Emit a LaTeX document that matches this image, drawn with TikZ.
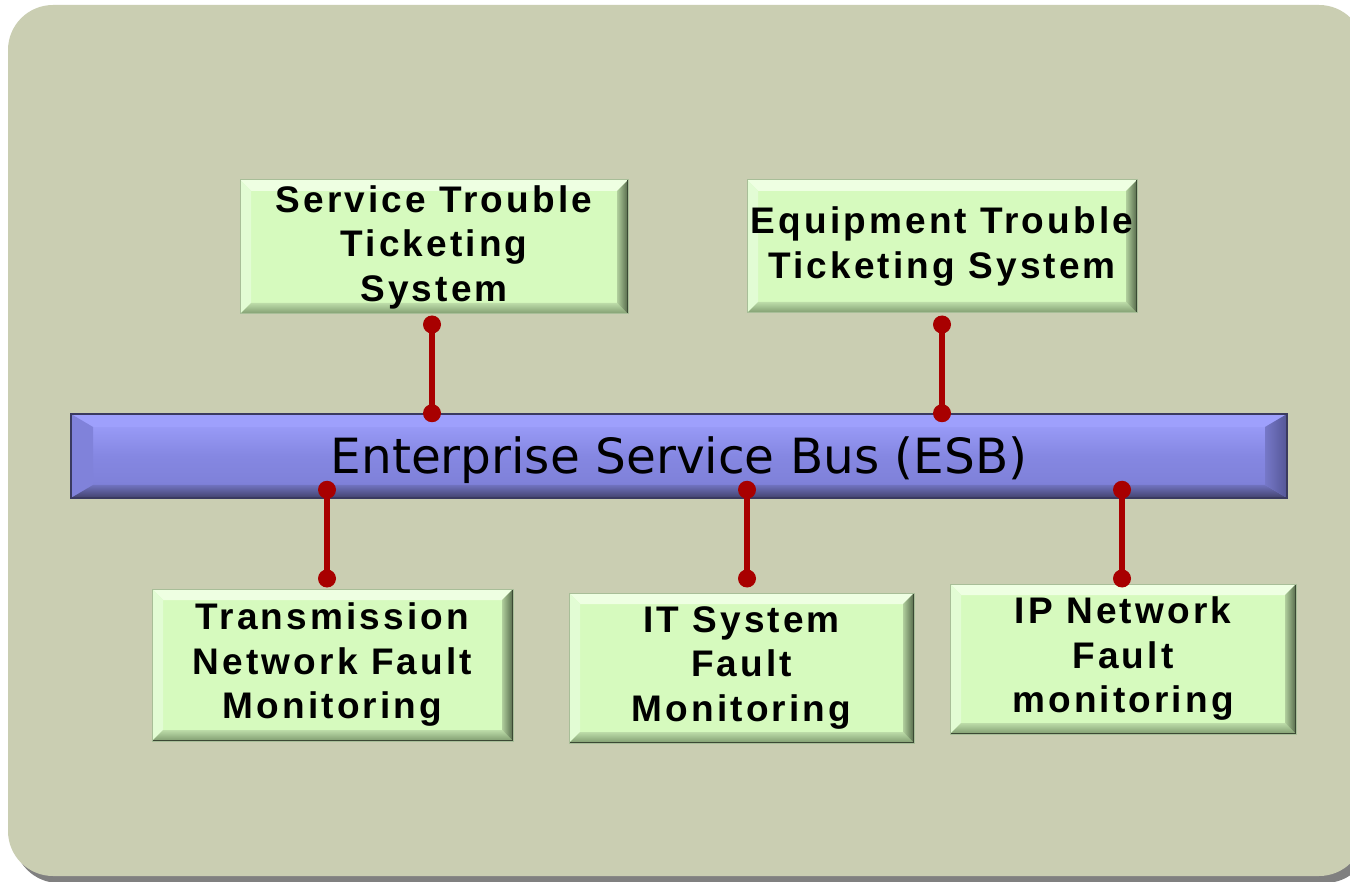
\documentclass[tikz,border=0pt]{standalone}
\usepackage{fontspec}
\setmainfont{Liberation Sans}
\newfontfamily\boxfont[LetterSpace=8.5]{Liberation Sans Bold}
\newfontfamily\busfont{DejaVu Sans}

\definecolor{panel}{RGB}{202,206,178}
\definecolor{panelshadow}{RGB}{128,128,128}
\definecolor{boxgreen}{RGB}{214,250,190}
\definecolor{gtop}{RGB}{238,255,226}
\definecolor{gleft}{RGB}{226,252,212}
\definecolor{gbotA}{RGB}{188,220,168}
\definecolor{gbotB}{RGB}{128,156,112}
\definecolor{grightA}{RGB}{176,206,156}
\definecolor{grightB}{RGB}{84,104,74}
\definecolor{gedge}{RGB}{168,190,152}
\definecolor{busA}{RGB}{160,162,255}
\definecolor{busB}{RGB}{133,135,226}
\definecolor{busC}{RGB}{124,126,212}
\definecolor{btop}{RGB}{158,160,252}
\definecolor{bleft}{RGB}{128,130,218}
\definecolor{brightA}{RGB}{118,120,200}
\definecolor{brightB}{RGB}{84,86,150}
\definecolor{bbotA}{RGB}{112,114,190}
\definecolor{bbotB}{RGB}{66,66,108}
\definecolor{bedge}{RGB}{58,58,96}
\definecolor{linkred}{RGB}{168,0,0}

% bevel drawn inside a node: #1/#2 bevel depth (x/y), then top, left colours,
% bottom shading (from, to), right shading (from, to)
\newcommand\bevels[8]{%
  \coordinate (bvNW) at (path picture bounding box.north west);
  \coordinate (bvNE) at (path picture bounding box.north east);
  \coordinate (bvSW) at (path picture bounding box.south west);
  \coordinate (bvSE) at (path picture bounding box.south east);
  \coordinate (bvnw) at ([xshift=#1,yshift=-#2]bvNW);
  \coordinate (bvne) at ([xshift=-#1,yshift=-#2]bvNE);
  \coordinate (bvsw) at ([xshift=#1,yshift=#2]bvSW);
  \coordinate (bvse) at ([xshift=-#1,yshift=#2]bvSE);
  \fill[#3] (bvNW) -- (bvNE) -- (bvne) -- (bvnw) -- cycle;
  \fill[#4] (bvNW) -- (bvnw) -- (bvsw) -- (bvSW) -- cycle;
  \shade[top color=#5, bottom color=#6] (bvSW) -- (bvsw) -- (bvse) -- (bvSE) -- cycle;
  \shade[left color=#7, right color=#8] (bvNE) -- (bvne) -- (bvse) -- (bvSE) -- cycle;
}

\tikzset{
  greenbox/.style={rectangle, inner sep=0pt, align=center,
    fill=boxgreen, draw=gedge, line width=1pt,
    font=\boxfont\fontsize{37}{44.5}\selectfont,
    path picture={\bevels{11pt}{11pt}{gtop}{gleft}{gbotA}{gbotB}{grightA}{grightB}
      \draw[grightB!70!black, line width=2pt] (bvNE) -- (bvSE) -- (bvSW);}},
  busbar/.style={rectangle, inner sep=0pt, draw=bedge, line width=1.5pt,
    top color=busA, bottom color=busC, middle color=busB,
    font=\busfont\fontsize{48.5}{56}\selectfont,
    path picture={\bevels{22pt}{13pt}{btop}{bleft}{bbotA}{bbotB}{brightA}{brightB}}},
  link/.style={draw=linkred, line width=6pt},
  pin/.style={fill=linkred}
}

\begin{document}
\begin{tikzpicture}[x=1pt, y=-1pt]
\useasboundingbox (0,0) rectangle (1350,882);
\fill[white] (0,0) rectangle (1350,882);

% backdrop panel with its shadow
\fill[panelshadow, rounded corners=45pt] (14,12) rectangle (1370,883);
\fill[panel, rounded corners=45pt] (8,5) rectangle (1364,876);

% systems above the bus
\node[greenbox, minimum width=388pt, minimum height=134pt] (sts) at (434,247)
  {Service Trouble\\Ticketing\\System};
\node[greenbox, minimum width=390pt, minimum height=133pt] (ets) at (942,246.5)
  {Equipment Trouble\\Ticketing System};

% the bus
\node[busbar, minimum width=1216pt, minimum height=84pt] (esb) at (679,456)
  {\raisebox{-4pt}[\height][\depth]{Enterprise Service Bus (ESB)}};

% monitoring systems below the bus
\node[greenbox, minimum width=361pt, minimum height=152pt] (tnfm) at (332.5,665)
  {Transmission\\Network Fault\\Monitoring};
\node[greenbox, minimum width=345pt, minimum height=150pt] (itsfm) at (741.5,668)
  {IT System\\Fault\\Monitoring};
\node[greenbox, minimum width=346pt, minimum height=150pt] (ipnfm) at (1123,659)
  {IP Network\\Fault\\monitoring};

% connection points
\coordinate (t1) at ([xshift=-2pt,yshift=-10pt]sts.south);
\coordinate (u1) at (t1 |- esb.north);
\coordinate (t2) at ([yshift=-11pt]ets.south);
\coordinate (u2) at (t2 |- esb.north);
\coordinate (m1) at ([xshift=-5.5pt,yshift=10pt]tnfm.north);
\coordinate (n1) at (m1 |- esb.south);
\coordinate (m2) at ([xshift=5.5pt,yshift=14pt]itsfm.north);
\coordinate (n2) at (m2 |- esb.south);
\coordinate (m3) at ([xshift=-1pt,yshift=5pt]ipnfm.north);
\coordinate (n3) at (m3 |- esb.south);

\draw[link] (t1) -- (u1);
\draw[link] (t2) -- (u2);
\draw[link] ([yshift=9pt]n1) -- (m1);
\draw[link] ([yshift=9pt]n2) -- (m2);
\draw[link] ([yshift=9pt]n3) -- (m3);

\foreach \p in {t1,u1,t2,u2,m1,m2,m3}
  \fill[pin] (\p) circle (9pt);
\foreach \p in {n1,n2,n3}
  \fill[pin] ([yshift=9pt]\p) circle (9pt);
\end{tikzpicture}
\end{document}
